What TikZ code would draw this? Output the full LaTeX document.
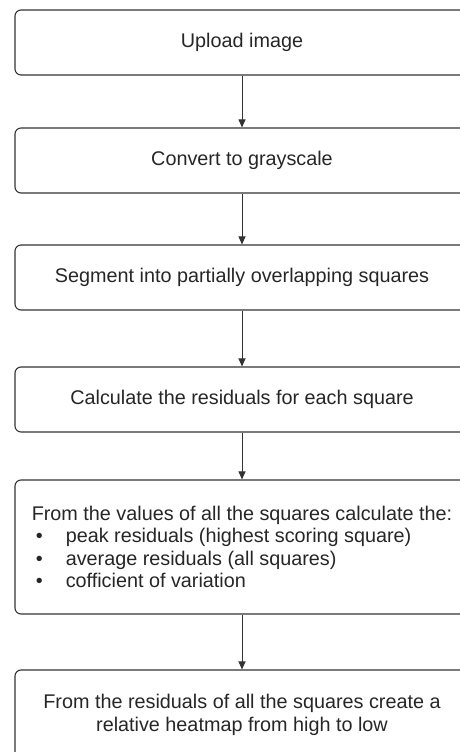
\documentclass[tikz,border=0pt]{standalone}
\usepackage{fontspec}
\setmainfont{Liberation Sans}
\usetikzlibrary{arrows.meta}

\begin{document}
\begin{tikzpicture}[x=1pt, y=1pt,
    stepbox/.style={draw=black!80, line width=1.1pt, rounded corners=6pt,
        minimum width=454pt, minimum height=65pt, inner sep=0pt,
        font=\fontsize{19.8}{22.6}\selectfont, text=black!85},
    arrowline/.style={draw=black!80, line width=1pt,
        -{Triangle[length=8pt, width=7pt]}}]
    % Page frame (boxes run past the right and bottom edges)
    \useasboundingbox (0, 0) rectangle (460, -752);
    \clip (0, 0) rectangle (460, -752);

    % Processing steps
    \node[stepbox] (upload) at (242, -42.5) {Upload image};
    \node[stepbox] (gray) at (242, -160.5) {Convert to grayscale};
    \node[stepbox] (segment) at (242, -277.5) {Segment into partially overlapping squares};
    \node[stepbox] (resid) at (242, -399.5) {Calculate the residuals for each square};
    \node[stepbox, minimum height=134pt, align=left] (stats) at (242, -547)
        {From the values of all the squares calculate the:\\
         \makebox[34pt][l]{\hspace{4pt}\textbullet}peak residuals (highest scoring square)\\
         \makebox[34pt][l]{\hspace{4pt}\textbullet}average residuals (all squares)\\
         \makebox[34pt][l]{\hspace{4pt}\textbullet}cofficient of variation};
    \node[stepbox, minimum height=90pt, align=center] (heat) at (242, -715)
        {From the residuals of all the squares create a\\relative heatmap from high to low};

    % Arrows between the steps
    \foreach \a/\b in {upload/gray, gray/segment, segment/resid, resid/stats, stats/heat} {
        \draw[arrowline] (\a.south) -- (\b.north);
    }

\end{tikzpicture}
\end{document}
